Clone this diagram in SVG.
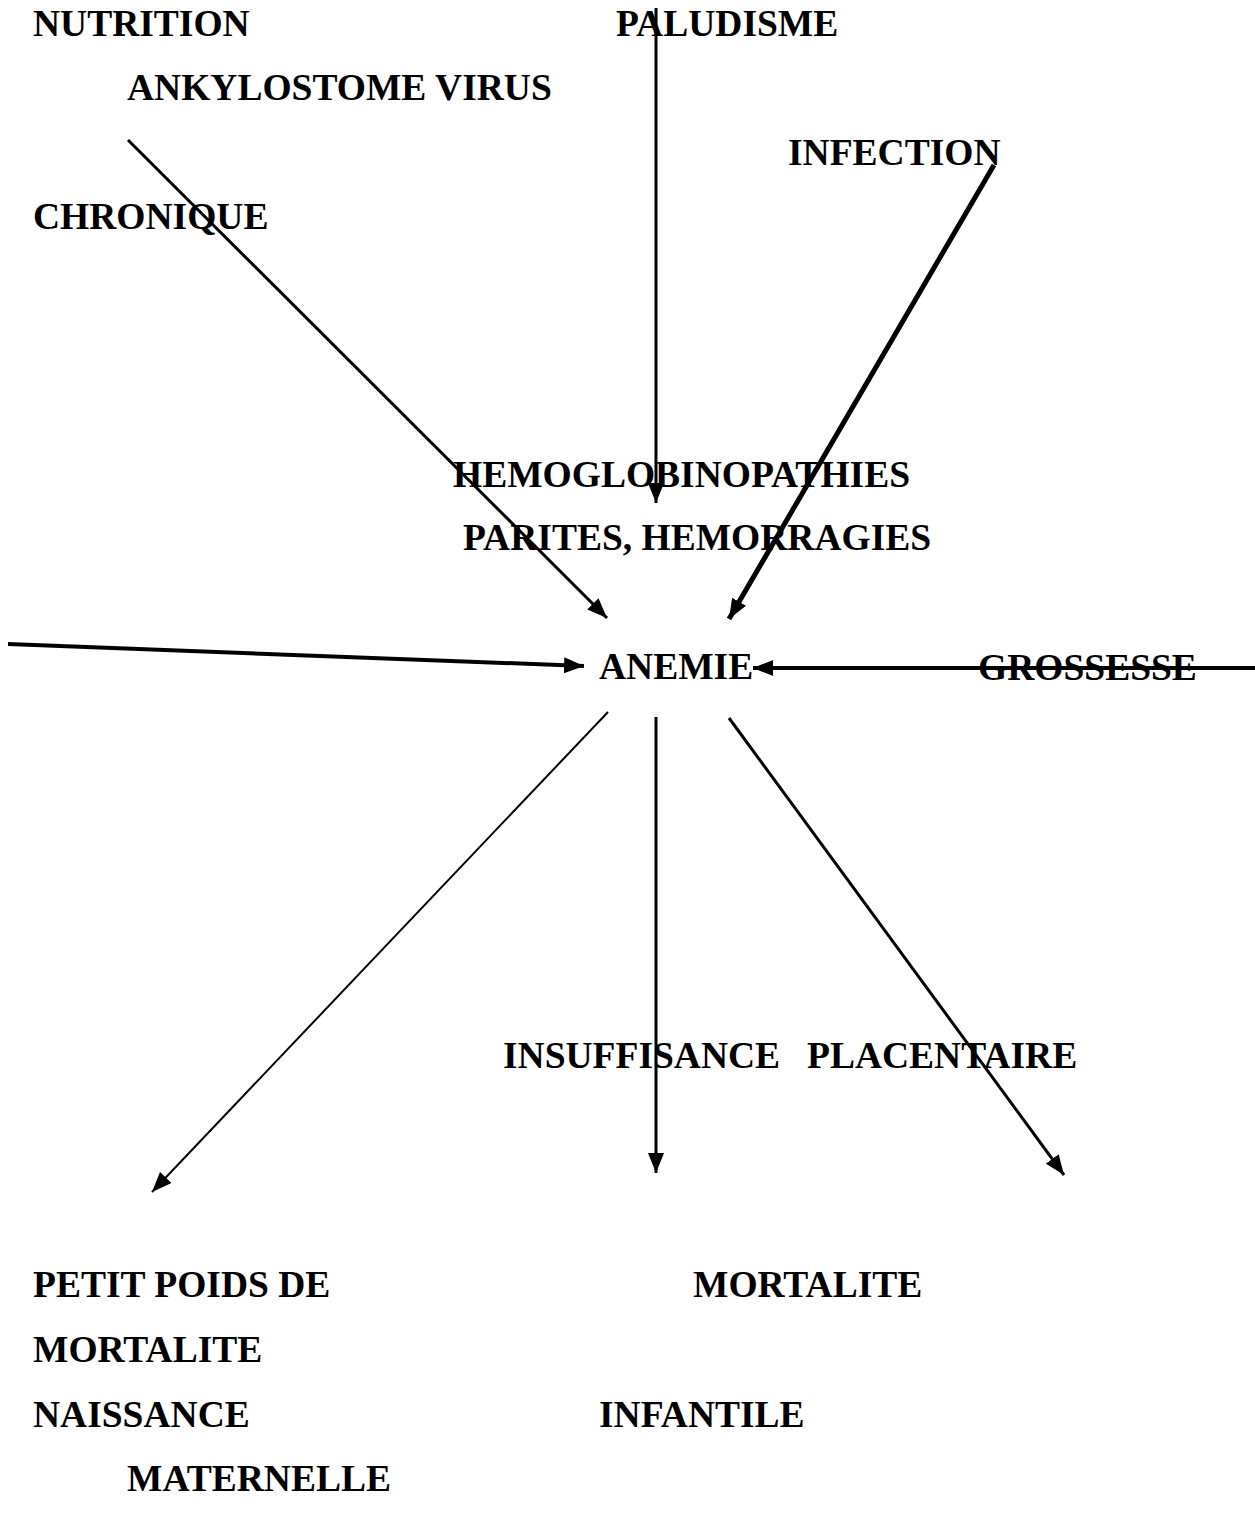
<svg xmlns="http://www.w3.org/2000/svg" width="1255" height="1521" viewBox="0 0 1255 1521">
<style>
.t{font-family:"Liberation Serif","Times New Roman",serif;font-weight:bold;font-size:37.5px;fill:#000}
.c{stroke:#000;fill:none}
</style>
<defs>
<marker id="ah" markerUnits="userSpaceOnUse" markerWidth="21" markerHeight="16" refX="20" refY="8" orient="auto">
<path d="M0,0 L20,8 L0,16 z" fill="#000"/>
</marker>
</defs>
<rect width="1255" height="1521" fill="#fff"/>
<g id="nodes">
<g id="n-nutrition"><text class="t" x="33" y="36">NUTRITION</text></g>
<g id="n-paludisme"><text class="t" x="616" y="36">PALUDISME</text></g>
<g id="n-ankylostome"><text class="t" x="127" y="100">ANKYLOSTOME VIRUS</text></g>
<g id="n-infection"><text class="t" x="788" y="165">INFECTION</text></g>
<g id="n-chronique"><text class="t" x="33" y="229">CHRONIQUE</text></g>
<g id="n-hemoglobinopathies"><text class="t" x="453" y="487">HEMOGLOBINOPATHIES</text></g>
<g id="n-parites"><text class="t" x="463" y="550">PARITES, HEMORRAGIES</text></g>
<g id="n-anemie"><text class="t" x="599" y="679">ANEMIE</text></g>
<g id="n-grossesse"><text class="t" x="978" y="680">GROSSESSE</text></g>
<g id="n-insuffisance"><text class="t" x="503" y="1068">INSUFFISANCE</text><text class="t" x="807" y="1068">PLACENTAIRE</text></g>
<g id="n-petit"><text class="t" x="33" y="1297">PETIT POIDS DE</text></g>
<g id="n-mortalite1"><text class="t" x="693" y="1297">MORTALITE</text></g>
<g id="n-mortalite2"><text class="t" x="33" y="1362">MORTALITE</text></g>
<g id="n-naissance"><text class="t" x="33" y="1427">NAISSANCE</text></g>
<g id="n-infantile"><text class="t" x="599" y="1427">INFANTILE</text></g>
<g id="n-maternelle"><text class="t" x="127" y="1491">MATERNELLE</text></g>
</g>
<g id="connectors">
<line class="c" x1="128" y1="140" x2="607" y2="618" stroke-width="3" marker-end="url(#ah)"/>
<line class="c" x1="656" y1="8" x2="656" y2="503" stroke-width="3" marker-end="url(#ah)"/>
<line class="c" x1="994" y1="165" x2="729" y2="619" stroke-width="5" marker-end="url(#ah)"/>
<line class="c" x1="8" y1="644" x2="584" y2="666" stroke-width="4" marker-end="url(#ah)"/>
<line class="c" x1="1255" y1="668" x2="753" y2="668" stroke-width="4" marker-end="url(#ah)"/>
<line class="c" x1="608" y1="712" x2="152" y2="1192" stroke-width="2" marker-end="url(#ah)"/>
<line class="c" x1="656" y1="717" x2="656" y2="1173" stroke-width="3" marker-end="url(#ah)"/>
<line class="c" x1="729" y1="718" x2="1064" y2="1175" stroke-width="3" marker-end="url(#ah)"/>
</g>
</svg>
